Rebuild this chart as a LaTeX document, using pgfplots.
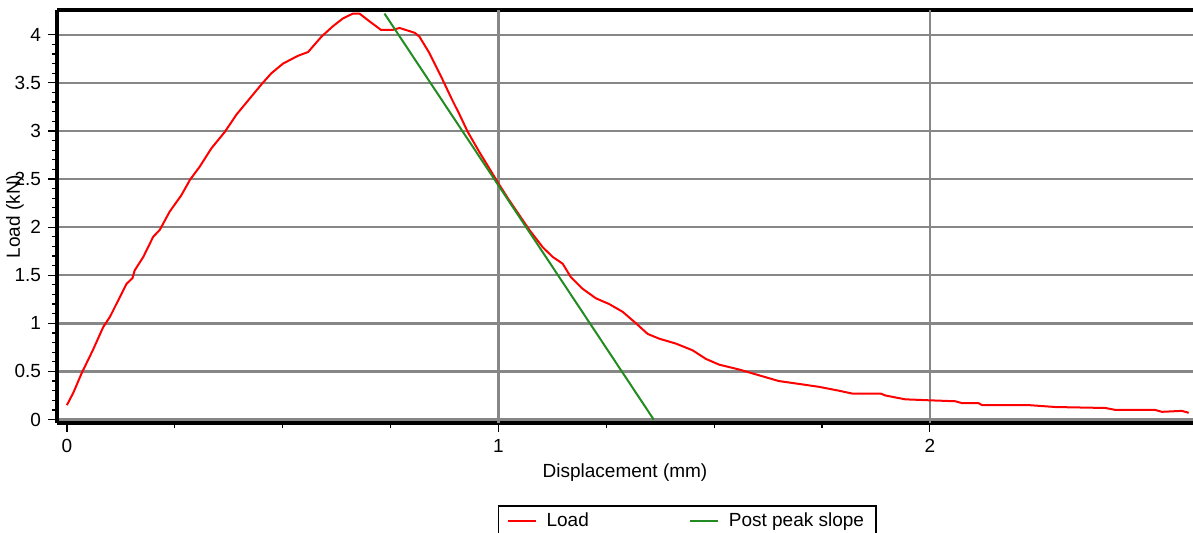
\documentclass[border=0pt]{standalone}
\usepackage{pgfplots}
\pgfplotsset{compat=1.18}
\usepackage{fontspec}
\setmainfont{Liberation Sans}
\definecolor{gridgray}{RGB}{135,135,135}
\definecolor{slopegreen}{RGB}{34,139,34}
\begin{document}
\begin{tikzpicture}
\useasboundingbox (-28.5pt,-55pt) rectangle (568pt,211.5pt);
\begin{axis}[
  at={(0,0)}, anchor=south west,
  scale only axis, width=568pt, height=206.5pt,
  xmin=-0.023, xmax=2.61, ymin=-0.036, ymax=4.257,
  axis x line*=box, axis y line*=left,
  xtick pos=bottom, ytick pos=left,
  axis line style={black, line width=1.6pt},
  xtick={0,1,2}, ytick={0,0.5,1,1.5,2,2.5,3,3.5,4},
  minor x tick num=3, minor y tick num=4,
  tick align=outside,
  major tick length=4.5pt, minor tick length=2.5pt,
  tick style={black, line width=0.6pt},
  ymajorgrids,
  extra x ticks={1,2}, extra x tick labels={},
  extra x tick style={xmajorgrids=true, major tick length=0pt},
  grid style={gridgray, line width=1.2pt},
  font=\fontsize{9.5}{11}\selectfont,
  ticklabel style={font=\fontsize{9.5}{11}\selectfont},
  /pgf/number format/assume math mode=true,
  xlabel={Displacement (mm)}, ylabel={Load (kN)},
  xlabel style={at={(axis description cs:0.5,-0.119)}, anchor=center},
  ylabel style={at={(axis description cs:-0.037,0.5)}, anchor=center},
  legend style={at={(axis description cs:0.388,-0.1985)}, anchor=north west,
    draw=black, line width=0.8pt, inner xsep=4pt, inner ysep=1.5pt,
    font=\fontsize{9.5}{11}\selectfont},
  legend columns=2,
  /tikz/every odd column/.append style={column sep=3pt},
  /tikz/every even column/.append style={column sep=48pt},
  legend image code/.code={\draw[#1, line width=1pt] (0pt,0pt) -- (14pt,0pt);},
]
\addplot[red, line width=1pt] coordinates {
(0,0.15) (0.015,0.28) (0.034,0.48) (0.06,0.72) (0.084,0.96) (0.100,1.07)
(0.119,1.24) (0.138,1.41) (0.152,1.47) (0.157,1.55) (0.177,1.69) (0.200,1.90)
(0.215,1.97) (0.238,2.16) (0.265,2.33) (0.285,2.49) (0.308,2.63) (0.335,2.82)
(0.366,2.99) (0.393,3.17) (0.428,3.36) (0.454,3.50) (0.474,3.60) (0.501,3.70)
(0.535,3.78) (0.559,3.82) (0.590,3.98) (0.617,4.09) (0.640,4.17) (0.663,4.22)
(0.678,4.22) (0.701,4.14) (0.728,4.05) (0.755,4.05) (0.771,4.07) (0.806,4.02)
(0.817,3.98) (0.840,3.81) (0.871,3.53) (0.891,3.34) (0.910,3.17) (0.929,2.99)
(0.956,2.78) (0.998,2.47) (1.022,2.30) (1.072,1.97) (1.103,1.79) (1.126,1.69)
(1.149,1.62) (1.168,1.48) (1.195,1.36) (1.226,1.26) (1.257,1.20) (1.288,1.12)
(1.319,1.00) (1.346,0.89) (1.373,0.84) (1.411,0.79) (1.450,0.72) (1.481,0.63)
(1.512,0.57) (1.558,0.52) (1.604,0.46) (1.650,0.40) (1.697,0.37) (1.743,0.34)
(1.789,0.30) (1.820,0.27) (1.886,0.27) (1.897,0.25) (1.943,0.21) (1.998,0.20)
(2.059,0.19) (2.075,0.17) (2.113,0.17) (2.121,0.15) (2.229,0.15) (2.291,0.13)
(2.407,0.12) (2.430,0.10) (2.522,0.10) (2.538,0.08) (2.584,0.09) (2.600,0.07)
};
\addlegendentry{Load}
\addplot[slopegreen, line width=1pt] coordinates {(0.736,4.22) (1.36,0)};
\addlegendentry{Post peak slope}
\end{axis}
\end{tikzpicture}
\end{document}
